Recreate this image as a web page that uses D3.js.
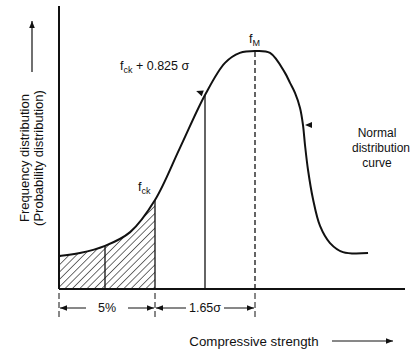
<!DOCTYPE html>
<html>
<head>
<meta charset="utf-8">
<script src="https://cdn.jsdelivr.net/npm/d3@7"></script>
<style>
  html, body { margin: 0; padding: 0; background: #fff; }
  text { font-family: "Liberation Sans", Arial, sans-serif; fill: #111; }
</style>
</head>
<body>
<div id="vis-tag"></div>
<script>
// 曲线数据：横轴以 σ 为单位（相对平均强度 fm），纵轴为相对频率
const curveX = [-3.234, -2.89, -2.475, -2.06, -1.65, -1.24, -0.825, -0.495, -0.25, 0, 0.248, 0.495, 0.578, 0.66, 0.743, 0.792, 0.825, 0.875, 0.957, 1.073, 1.238, 1.452, 1.865];
const curveY = [0.139, 0.151, 0.181, 0.239, 0.374, 0.592, 0.815, 0.950, 0.992, 1.0, 0.992, 0.908, 0.866, 0.824, 0.761, 0.689, 0.605, 0.500, 0.378, 0.265, 0.193, 0.155, 0.151];
// 竖线位置（σ）
const solidLines = [-2.475, -1.65, -0.825];
const meanLine = 0;
// 尺寸标注
const dimLabels = ["5%", "1.65σ"];
const dimBounds = [-3.234, -1.65, 0];

const width = 412, height = 351;
const svg = d3.select("#vis-tag").append("svg")
  .attr("width", width).attr("height", height)
  .style("background", "#fff");

const x = d3.scaleLinear().domain([-3.234, 2.475]).range([59, 405]);
const y = d3.scaleLinear().domain([0, 1]).range([289, 51]);

const data = curveX.map((v, i) => ({ x: v, y: curveY[i] }));
const yAt = v => data.find(d => Math.abs(d.x - v) < 1e-6).y;
const smooth = d3.curveCatmullRom;

// 箭头
const defs = svg.append("defs");
defs.append("marker").attr("id", "arr")
  .attr("viewBox", "0 0 10 10").attr("refX", 10).attr("refY", 5)
  .attr("markerWidth", 7).attr("markerHeight", 7).attr("markerUnits", "userSpaceOnUse")
  .attr("orient", "auto-start-reverse")
  .append("path").attr("d", "M0,1 L10,5 L0,9 Z").attr("fill", "#111");

// 斜线填充
const pat = defs.append("pattern").attr("id", "hatch")
  .attr("patternUnits", "userSpaceOnUse").attr("width", 5.2).attr("height", 5.2)
  .attr("patternTransform", "rotate(45)");
pat.append("line").attr("x1", 0).attr("y1", 0).attr("x2", 0).attr("y2", 5.2)
  .attr("stroke", "#111").attr("stroke-width", 1.2);

// 阴影区
const area = d3.area().x(d => x(d.x)).y0(y(0)).y1(d => y(d.y)).curve(smooth);
svg.append("path").datum(data.filter(d => d.x <= -1.65))
  .attr("d", area).attr("fill", "url(#hatch)");

// 曲线
const line = d3.line().x(d => x(d.x)).y(d => y(d.y)).curve(smooth);
svg.append("path").datum(data).attr("d", line)
  .attr("fill", "none").attr("stroke", "#111").attr("stroke-width", 2);

// 竖线
svg.selectAll(".vline").data(solidLines).enter().append("line")
  .attr("x1", d => x(d)).attr("x2", d => x(d))
  .attr("y1", y(0)).attr("y2", d => y(yAt(d)))
  .attr("stroke", "#111").attr("stroke-width", 1.3);
svg.append("line")
  .attr("x1", x(meanLine)).attr("x2", x(meanLine))
  .attr("y1", y(0)).attr("y2", y(yAt(meanLine)))
  .attr("stroke", "#111").attr("stroke-width", 1.3).attr("stroke-dasharray", "5,3");

// 坐标轴
svg.append("line").attr("x1", x(-3.234)).attr("x2", x(-3.234)).attr("y1", 6).attr("y2", y(0))
  .attr("stroke", "#111").attr("stroke-width", 2);
svg.append("line").attr("x1", x(-3.234)).attr("x2", x(2.475)).attr("y1", y(0)).attr("y2", y(0))
  .attr("stroke", "#111").attr("stroke-width", 2);

// 曲线上的小箭头
const tri = (cx, cy, rot) => svg.append("path")
  .attr("d", "M-4,-3 L3,0 L-4,3 Z").attr("fill", "#111")
  .attr("transform", `translate(${cx},${cy}) rotate(${rot})`);
tri(x(-0.825) - 6, y(yAt(-0.825)) - 3, 200);
tri(x(0.792) + 5, y(yAt(0.792)), 180);

// 尺寸标注
const dy0 = 308;
svg.selectAll(".ext").data(dimBounds).enter().append("line")
  .attr("x1", d => x(d)).attr("x2", d => x(d)).attr("y1", 293).attr("y2", 318)
  .attr("stroke", "#111").attr("stroke-width", 1).attr("stroke-dasharray", "6,3");
const gaps = [21, 19];
dimLabels.forEach((lab, i) => {
  const a = x(dimBounds[i]) + 1, b = x(dimBounds[i + 1]) - 1, m = (a + b) / 2;
  svg.append("line").attr("x1", m - gaps[i]).attr("x2", a).attr("y1", dy0).attr("y2", dy0)
    .attr("stroke", "#111").attr("stroke-width", 1).attr("marker-end", "url(#arr)");
  svg.append("line").attr("x1", m + gaps[i]).attr("x2", b).attr("y1", dy0).attr("y2", dy0)
    .attr("stroke", "#111").attr("stroke-width", 1).attr("marker-end", "url(#arr)");
  svg.append("text").attr("x", m).attr("y", dy0).attr("dy", "0.35em")
    .attr("text-anchor", "middle").attr("font-size", 12.5).text(lab);
});

// 横轴标题
svg.append("text").attr("x", 254).attr("y", 341).attr("dy", "0.35em")
  .attr("text-anchor", "middle").attr("font-size", 13.3).text("Compressive strength");
svg.append("line").attr("x1", 332).attr("x2", 393).attr("y1", 341).attr("y2", 341)
  .attr("stroke", "#111").attr("stroke-width", 1).attr("marker-end", "url(#arr)");

// 纵轴标题
svg.append("text").attr("transform", "translate(24,158) rotate(-90)").attr("dy", "0.35em")
  .attr("text-anchor", "middle").attr("font-size", 13).text("Frequency distribution");
svg.append("text").attr("transform", "translate(38,158) rotate(-90)").attr("dy", "0.35em")
  .attr("text-anchor", "middle").attr("font-size", 13).text("(Probability distribution)");
svg.append("line").attr("x1", 32).attr("x2", 32).attr("y1", 72).attr("y2", 21)
  .attr("stroke", "#111").attr("stroke-width", 1.2).attr("marker-end", "url(#arr)");

// 注释
const fLabel = (tx, ty, sub, rest) => {
  const t = svg.append("text").attr("x", tx).attr("y", ty).attr("font-size", 12.5);
  t.append("tspan").text("f");
  t.append("tspan").attr("font-size", 9).attr("dy", 3).text(sub);
  if (rest) t.append("tspan").attr("dy", -3).text(rest);
};
fLabel(120, 70, "ck", " + 0.825 σ");
fLabel(138, 191, "ck");
fLabel(249, 43, "M");

svg.selectAll(".norm").data(["Normal", "distribution", "curve"]).enter().append("text")
  .attr("x", (d, i) => [377, 381, 377][i]).attr("y", (d, i) => 133 + i * 15).attr("dy", "0.35em")
  .attr("text-anchor", "middle").attr("font-size", 12).attr("fill", "#333").text(d => d);
</script>
</body>
</html>
